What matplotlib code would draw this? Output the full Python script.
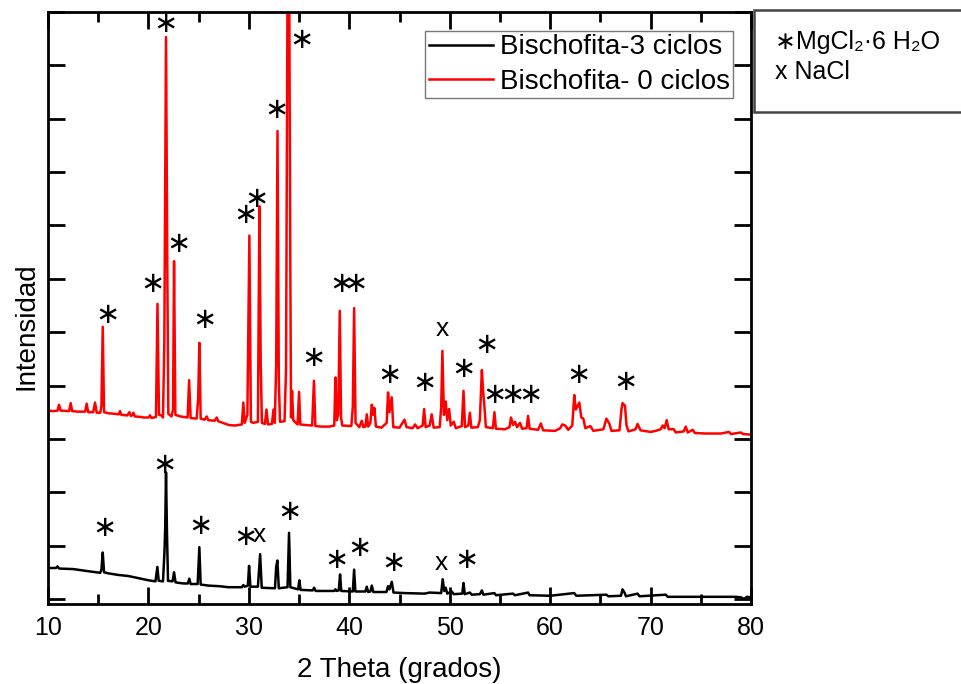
import matplotlib
matplotlib.use('Agg')
import matplotlib.pyplot as plt
from matplotlib.patches import Rectangle
from matplotlib.ticker import MultipleLocator, NullFormatter

plt.rcParams['font.family'] = ['Liberation Sans', 'DejaVu Sans']

# Bischofita - 0 ciclos (rojo)
red_2theta = [10.0, 10.5, 10.95, 11.1, 11.25, 12.1, 12.26, 12.4, 13.0, 13.7, 13.85, 14.0, 14.5, 14.68, 14.85,
              15.2, 15.32, 15.45, 15.58, 16.0, 16.6, 17.05, 17.17, 17.3, 17.9, 18.1, 18.25, 18.38, 18.5, 18.65,
              19.3, 19.5, 20.0, 20.16, 20.3, 20.75, 20.9, 21.05, 21.3, 21.45, 21.58, 21.75, 21.88, 21.98,
              22.3, 22.45, 22.55, 22.68, 23.2, 23.9, 24.05, 24.2, 24.8, 24.95, 25.07, 25.2, 25.6, 25.8, 25.95,
              26.6, 26.8, 26.95, 27.4, 28.0, 28.6, 29.3, 29.45, 29.58, 29.85, 29.95, 30.05, 30.2, 30.45,
              30.9, 31.05, 31.18, 31.3, 31.6, 31.75, 31.9, 32.3, 32.45, 32.58, 32.72, 32.85, 32.98, 33.1,
              33.55, 33.7, 33.85, 34.02, 34.12, 34.2, 34.3, 34.42, 34.85, 35.0, 35.12, 35.6, 36.3, 36.48, 36.62,
              37.2, 38.0, 38.5, 38.62, 38.75, 38.9, 39.05, 39.18, 39.3, 40.2, 40.35, 40.48, 40.62, 41.0,
              41.24, 41.4, 41.6, 41.74, 41.88, 42.1, 42.24, 42.4, 42.5, 42.65, 43.2, 43.72, 43.86, 44.0,
              44.22, 44.38, 45.0, 45.49, 45.7, 46.3, 46.55, 46.8, 47.3, 47.45, 47.6, 48.0, 48.2, 48.4,
              49.0, 49.15, 49.27, 49.42, 49.6, 49.75, 49.94, 50.1, 50.4, 50.6, 51.2, 51.37, 51.52, 51.85,
              52.0, 52.15, 52.8, 53.0, 53.2, 53.32, 53.45, 53.6, 54.3, 54.45, 54.6, 55.5, 55.95, 56.1, 56.3,
              56.5, 56.7, 57.0, 57.2, 57.65, 57.8, 57.95, 58.8, 59.07, 59.3, 60.5, 61.0, 61.2, 61.5, 61.8,
              62.2, 62.4, 62.55, 62.7, 62.9, 63.1, 63.3, 63.5, 64.0, 64.3, 65.3, 65.6, 65.9, 66.1, 66.9,
              67.1, 67.2, 67.45, 67.6, 67.8, 68.5, 68.7, 69.0, 70.0, 70.5, 71.0, 71.2, 71.4, 71.6, 71.8,
              72.3, 72.5, 73.3, 73.5, 73.7, 74.2, 74.4, 75.5, 77.0, 77.8, 78.0, 79.0, 79.2, 80.0]
red_int = [3.53, 3.52, 3.53, 3.64, 3.53, 3.52, 3.67, 3.52, 3.51, 3.51, 3.66, 3.50, 3.50, 3.68, 3.49,
           3.49, 3.62, 5.10, 3.50, 3.48, 3.47, 3.46, 3.52, 3.45, 3.44, 3.50, 3.43, 3.44, 3.49, 3.42,
           3.41, 3.40, 3.40, 3.44, 3.39, 3.41, 5.53, 3.45, 3.44, 3.40, 4.80, 10.53, 6.20, 3.47,
           3.42, 3.55, 6.33, 3.45, 3.42, 3.40, 4.10, 3.39, 3.38, 3.75, 4.80, 3.38, 3.36, 3.42, 3.35,
           3.34, 3.40, 3.33, 3.30, 3.26, 3.25, 3.27, 3.68, 3.30, 3.45, 5.10, 6.81, 3.32, 3.30,
           3.32, 7.36, 4.40, 3.30, 3.28, 3.55, 3.27, 3.28, 3.55, 3.30, 4.40, 8.77, 4.10, 3.32,
           3.33, 4.30, 11.5, 11.5, 6.50, 3.40, 3.90, 3.35, 3.27, 3.88, 3.27, 3.26, 3.25, 4.09, 3.24,
           3.23, 3.23, 3.25, 4.15, 3.35, 3.45, 5.40, 3.40, 3.25, 3.24, 3.60, 5.45, 3.30, 3.22,
           3.34, 3.22, 3.23, 3.46, 3.23, 3.30, 3.64, 3.45, 3.58, 3.23, 3.21, 3.30, 3.87, 3.50,
           3.78, 3.22, 3.21, 3.36, 3.22, 3.20, 3.27, 3.20, 3.25, 3.56, 3.22, 3.25, 3.46, 3.21,
           3.22, 3.60, 4.65, 3.45, 3.70, 3.35, 3.56, 3.25, 3.32, 3.20, 3.24, 3.90, 3.22, 3.25,
           3.49, 3.21, 3.22, 3.35, 4.29, 3.90, 3.62, 3.22, 3.20, 3.50, 3.19, 3.18, 3.22, 3.40, 3.26,
           3.32, 3.22, 3.30, 3.19, 3.20, 3.43, 3.19, 3.17, 3.29, 3.16, 3.15, 3.20, 3.27, 3.25, 3.17,
           3.25, 3.82, 3.55, 3.60, 3.68, 3.40, 3.38, 3.20, 3.24, 3.15, 3.18, 3.38, 3.28, 3.15, 3.16,
           3.55, 3.67, 3.62, 3.25, 3.14, 3.18, 3.28, 3.16, 3.13, 3.15, 3.18, 3.25, 3.20, 3.35, 3.18,
           3.18, 3.12, 3.14, 3.23, 3.12, 3.17, 3.11, 3.10, 3.10, 3.13, 3.09, 3.12, 3.09, 3.08]

# Bischofita-3 ciclos (negro)
black_2theta = [10.0, 10.8, 10.95, 11.1, 12.5, 14.0, 15.2, 15.32, 15.45, 15.58, 16.0, 17.0, 18.0, 19.0, 20.0,
                20.7, 20.89, 21.02, 21.45, 21.6, 21.67, 21.75, 21.85, 21.95, 22.4, 22.55, 22.7, 23.5, 23.92,
                24.07, 24.2, 24.9, 25.07, 25.2, 26.0, 27.0, 28.0, 29.3, 29.45, 29.6, 29.9, 30.02, 30.15, 30.9,
                31.12, 31.28, 32.6, 32.72, 32.84, 32.98, 33.85, 34.0, 34.13, 34.9, 35.03, 35.15, 36.35, 36.5,
                36.65, 38.5, 38.62, 38.75, 38.95, 39.08, 39.2, 40.35, 40.48, 40.6, 41.6, 41.74, 41.88, 42.1,
                42.24, 42.4, 43.7, 43.86, 44.0, 44.23, 44.4, 45.5, 47.5, 48.0, 49.15, 49.3, 49.45, 49.6,
                49.75, 50.2, 50.4, 51.25, 51.37, 51.5, 52.0, 52.2, 53.0, 53.2, 53.35, 54.45, 54.6, 56.3,
                56.5, 57.8, 57.95, 60.0, 62.4, 62.6, 65.6, 65.8, 67.05, 67.2, 67.4, 67.55, 68.7, 68.9, 71.5,
                71.7, 75.0, 78.5, 79.0, 79.3, 79.6, 80.0]
black_int = [0.58, 0.58, 0.61, 0.57, 0.56, 0.52, 0.49, 0.55, 0.87, 0.50, 0.48, 0.45, 0.43, 0.39, 0.35,
             0.33, 0.60, 0.34, 0.33, 0.90, 1.34, 2.37, 1.20, 0.34, 0.33, 0.50, 0.31, 0.29, 0.29,
             0.38, 0.28, 0.28, 0.97, 0.27, 0.25, 0.24, 0.22, 0.22, 0.26, 0.23, 0.25, 0.62, 0.23, 0.23,
             0.84, 0.21, 0.20, 0.60, 0.72, 0.20, 0.22, 1.24, 0.22, 0.18, 0.35, 0.17, 0.16, 0.21,
             0.15, 0.15, 0.18, 0.15, 0.16, 0.46, 0.15, 0.14, 0.55, 0.14, 0.14, 0.23, 0.13, 0.14,
             0.25, 0.13, 0.13, 0.24, 0.18, 0.32, 0.12, 0.11, 0.10, 0.12, 0.11, 0.37, 0.15, 0.21,
             0.10, 0.14, 0.09, 0.10, 0.30, 0.09, 0.12, 0.08, 0.09, 0.16, 0.08, 0.11, 0.07, 0.10,
             0.07, 0.12, 0.07, 0.06, 0.11, 0.06, 0.08, 0.05, 0.06, 0.18, 0.12, 0.05, 0.10, 0.05, 0.08,
             0.04, 0.04, 0.04, 0.03, 0.00, 0.04, 0.03]

# marcas de fases sobre los picos: (simbolo, 2theta, intensidad)
red_marks = [('∗', 15.88, 5.33), ('∗', 20.36, 5.91), ('∗', 21.65, 10.77), ('∗', 22.95, 6.66),
             ('∗', 25.54, 5.23), ('∗', 29.62, 7.19), ('∗', 30.72, 7.50), ('∗', 32.71, 9.17),
             ('∗', 35.20, 10.47), ('∗', 36.39, 4.52), ('∗', 39.18, 5.91), ('∗', 40.58, 5.91),
             ('∗', 43.96, 4.20), ('∗', 47.45, 4.05), ('x', 49.24, 5.05), ('∗', 51.33, 4.30),
             ('∗', 53.63, 4.75), ('∗', 54.42, 3.83), ('∗', 56.21, 3.83), ('∗', 58.0, 3.83),
             ('∗', 62.79, 4.20), ('∗', 67.47, 4.07)]
black_marks = [('∗', 15.58, 1.33), ('∗', 21.55, 2.51), ('∗', 25.14, 1.37), ('∗', 29.62, 1.16),
               ('x', 31.02, 1.20), ('∗', 34.0, 1.63), ('∗', 38.69, 0.73), ('∗', 40.98, 0.96),
               ('∗', 44.36, 0.68), ('x', 49.14, 0.68), ('∗', 51.63, 0.73)]

fig = plt.figure(figsize=(9.62, 6.84), dpi=100)
ax = fig.add_axes([0.0499, 0.117, 0.7308, 0.8655])

ax.plot(black_2theta, black_int, color='black', linewidth=1.8, label='Bischofita-3 ciclos')
ax.plot(red_2theta, red_int, color='red', linewidth=1.8, label='Bischofita- 0 ciclos')

for sym, xx, yy in red_marks + black_marks:
    if sym == 'x':
        ax.text(xx, yy, sym, ha='center', va='center', fontsize=19)
    else:
        ax.text(xx, yy, sym, ha='center', va='center', fontsize=21, family='DejaVu Sans')

ax.set_xlim(10, 80)
ax.set_ylim(-0.094, 11.0)
ax.xaxis.set_major_locator(MultipleLocator(10))
ax.xaxis.set_minor_locator(MultipleLocator(5))
ax.yaxis.set_major_locator(MultipleLocator(1))
ax.yaxis.set_major_formatter(NullFormatter())
ax.tick_params(axis='both', which='major', direction='in', length=12, width=2,
               top=True, right=True, labelsize=18, pad=9)
ax.tick_params(axis='x', which='minor', direction='in', length=7, width=2, top=True)
for s in ax.spines.values():
    s.set_linewidth(2)

ax.set_xlabel('2 Theta (grados)', fontsize=20, labelpad=12)
ax.set_ylabel('Intensidad', fontsize=20)
ax.yaxis.set_label_coords(-0.012, 0.469)

leg = ax.legend(loc='upper right', bbox_to_anchor=(733 / 962, 1 - 31 / 684),
                bbox_transform=fig.transFigure, fontsize=20, frameon=True, fancybox=False,
                handlelength=2.3, handletextpad=0.25, labelspacing=0.3, borderpad=0.12,
                borderaxespad=0)
leg.get_frame().set_edgecolor('#555555')
leg.get_frame().set_linewidth(1.0)

# recuadro con la identificacion de fases
box = Rectangle((754 / 962, 1 - 112 / 684), 0.25, 102 / 684, transform=fig.transFigure,
                facecolor='white', edgecolor='#444444', linewidth=1.8, clip_on=False)
fig.patches.append(box)
fig.text(775 / 962, 1 - 42 / 684, '∗MgCl₂·6 H₂O', fontsize=18, va='center', ha='left')
fig.text(775 / 962, 1 - 72 / 684, 'x NaCl', fontsize=18, va='center', ha='left')

fig.savefig('out.png', dpi=100)
